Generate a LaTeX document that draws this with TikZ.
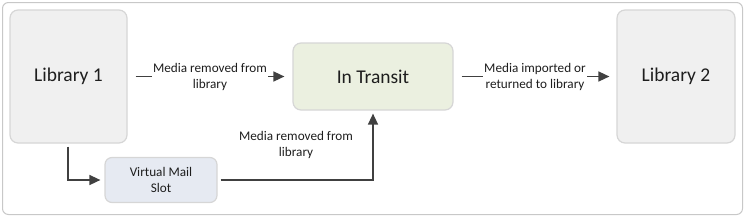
\documentclass[tikz,border=0pt]{standalone}
\usepackage{fontspec}
\setmainfont{Carlito}
\usetikzlibrary{arrows.meta}
\definecolor{boxgray}{HTML}{F0F0F0}
\definecolor{boxline}{HTML}{D6D6D6}
\definecolor{transitfill}{HTML}{EBF0E0}
\definecolor{vmsfill}{HTML}{E6EAF2}
\definecolor{arrowcol}{HTML}{404040}
\definecolor{framecol}{HTML}{C8C8C8}
\definecolor{txt}{HTML}{1E1E1E}
\tikzset{
  bigbox/.style={draw=boxline, line width=1.2pt, rounded corners=8pt, text=txt,
    font=\fontsize{19.5}{23}\selectfont, inner sep=0pt},
  smallbox/.style={draw=boxline, line width=1.2pt, rounded corners=7pt, text=txt,
    font=\fontsize{13.2}{16}\selectfont, align=center, inner sep=0pt},
  conn/.style={draw=arrowcol, line width=1.5pt, -{Triangle[length=11pt,width=10pt]}},
  lbl/.style={fill=white, text=txt, font=\fontsize{13.2}{16}\selectfont, align=center, inner sep=1pt}
}
\begin{document}
\begin{tikzpicture}[x=1pt,y=-1pt]
\useasboundingbox (0,0) rectangle (746,218);
\draw[framecol, line width=1pt, rounded corners=6pt] (2.5,2.5) rectangle (742.5,214.5);
\node[bigbox, fill=boxgray, minimum width=117pt, minimum height=133pt] (lib1) at (68.5,76.5) {Library 1};
\node[bigbox, fill=transitfill, minimum width=160pt, minimum height=67pt] (transit) at (373,76.5) {In Transit};
\node[bigbox, fill=boxgray, minimum width=118pt, minimum height=133pt] (lib2) at (676,76.5) {Library 2};
\node[smallbox, fill=vmsfill, minimum width=112pt, minimum height=45pt] (vms) at (161,180) {Virtual Mail\\Slot};
\draw[conn, shorten <=8pt, shorten >=8pt] (lib1.east) -- node[lbl] {Media removed from\\library} (transit.west);
\draw[conn, shorten <=8pt, shorten >=7pt] (transit.east) -- node[lbl] {Media imported or\\returned to library} (lib2.west);
\draw[conn, shorten <=3pt, shorten >=4pt] ([xshift=-0.5pt]lib1.south) |- (vms.west);
\draw[conn, shorten <=3pt, shorten >=3pt] (vms.east) -| (transit.south);
\node[lbl, fill=none] (lbl3) at (296,145) {Media removed from\\library};
\end{tikzpicture}
\end{document}
